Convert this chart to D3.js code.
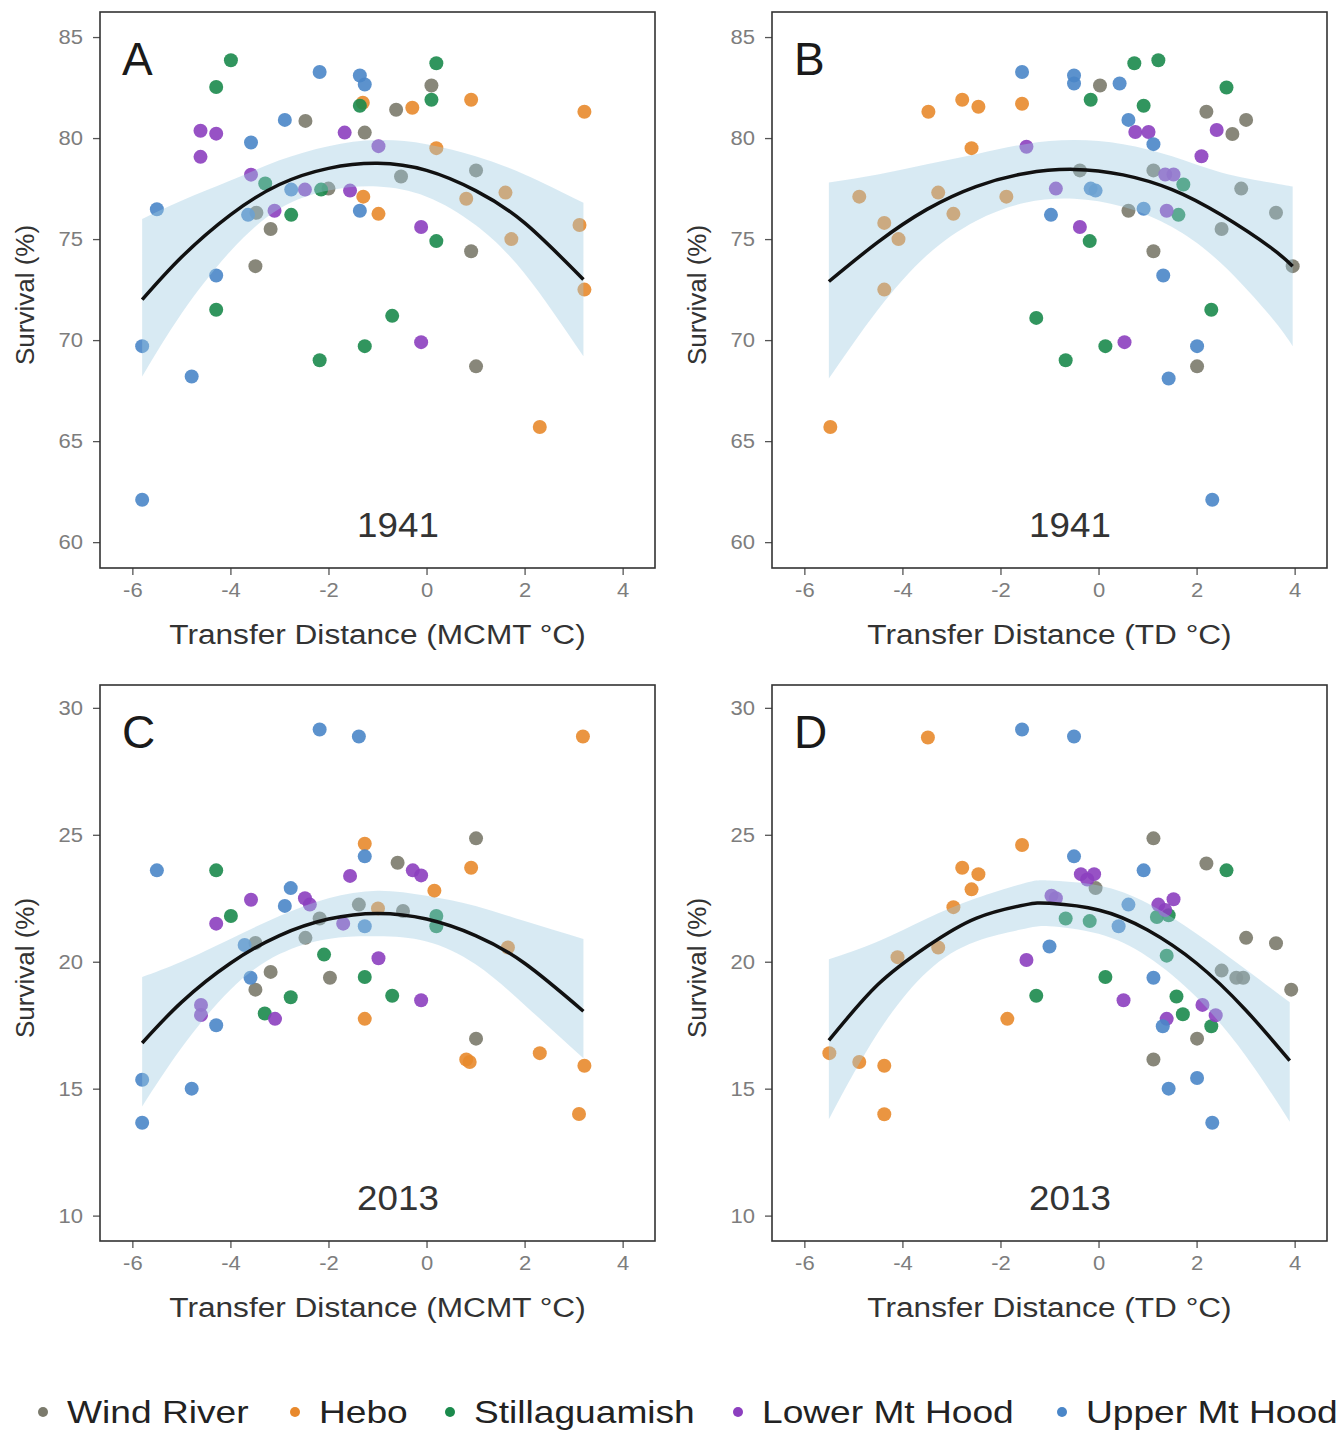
<!DOCTYPE html>
<html>
<head>
<meta charset="utf-8">
<script src="https://cdn.jsdelivr.net/npm/d3@7"></script>
<style>
  body { margin: 0; background: #fff; }
  svg { font-family: "Liberation Sans", Arial, sans-serif; }
</style>
</head>
<body>
<div id="chart"></div>
<script>
// sites and colours
const SITES = ["Wind River", "Hebo", "Stillaguamish", "Lower Mt Hood", "Upper Mt Hood"]
const COLORS = ["#7b7a6c", "#e8892c", "#1b8a4c", "#8c3fbf", "#4a86c8"]

const X_TICKS = [-6, -4, -2, 0, 2, 4]
const Y_TICKS_1941 = [60, 65, 70, 75, 80, 85]
const Y_TICKS_2013 = [10, 15, 20, 25, 30]

// [transfer distance, survival, site index]
const pointsA = [
  [-2.47,80.85,0],[-1.26,80.27,0],[-0.62,81.4,0],[0.1,82.6,0],[-0.52,78.1,0],[1.01,78.4,0],
  [-3.47,76.3,0],[-3.18,75.5,0],[-3.49,73.66,0],[0.91,74.4,0],[1.01,68.7,0],[-2.0,77.5,0],
  [-1.29,77.1,1],[-0.98,76.25,1],[-0.29,81.5,1],[0.91,81.9,1],[3.22,81.3,1],[0.2,79.5,1],
  [1.61,77.3,1],[0.81,77.0,1],[3.12,75.7,1],[1.73,75.0,1],[3.22,72.5,1],[2.31,65.7,1],[-1.3,81.75,1],
  [-3.99,83.85,2],[-4.29,82.53,2],[-1.36,81.6,2],[0.2,83.7,2],[0.1,81.9,2],[-3.29,77.75,2],
  [-2.15,77.45,2],[-2.76,76.2,2],[-4.29,71.5,2],[-2.18,69.0,2],[-1.26,69.7,2],[0.2,74.9,2],[-0.7,71.2,2],
  [-4.61,80.36,3],[-4.29,80.22,3],[-1.67,80.27,3],[-0.98,79.6,3],[-4.61,79.07,3],[-3.58,78.19,3],
  [-2.48,77.45,3],[-1.56,77.4,3],[-3.1,76.4,3],[-0.11,75.6,3],[-0.11,69.9,3],
  [-2.18,83.27,4],[-1.36,83.1,4],[-1.26,82.65,4],[-2.89,80.9,4],[-3.58,79.78,4],[-2.76,77.45,4],
  [-3.64,76.2,4],[-1.36,76.4,4],[-5.5,76.48,4],[-4.29,73.2,4],[-5.8,69.7,4],[-4.79,68.2,4],[-5.8,62.1,4]
]

const pointsB = [
  [0.03,82.6,0],[2.2,81.3,0],[3.01,80.9,0],[2.73,80.2,0],[1.12,78.4,0],[-0.38,78.4,0],[2.91,77.5,0],
  [0.61,76.4,0],[3.62,76.3,0],[2.51,75.5,0],[1.12,74.4,0],[3.96,73.66,0],[2.01,68.7,0],
  [-3.47,81.3,1],[-2.78,81.9,1],[-2.45,81.55,1],[-1.56,81.7,1],[-2.59,79.5,1],[-4.88,77.1,1],
  [-3.27,77.3,1],[-1.88,77.1,1],[-2.96,76.25,1],[-4.37,75.8,1],[-4.08,75.0,1],[-4.37,72.5,1],[-5.47,65.7,1],
  [-1.27,71.1,2],[-0.16,81.9,2],[0.73,83.7,2],[1.22,83.85,2],[0.92,81.6,2],[2.61,82.5,2],
  [1.73,77.7,2],[1.63,76.2,2],[-0.18,74.9,2],[2.3,71.5,2],[0.14,69.7,2],[-0.67,69.0,2],
  [-1.47,79.57,3],[-0.87,77.5,3],[2.41,80.4,3],[2.1,79.1,3],[0.75,80.3,3],[1.02,80.3,3],
  [1.36,78.2,3],[1.53,78.2,3],[1.39,76.4,3],[-0.38,75.6,3],[0.53,69.9,3],
  [-1.56,83.27,4],[-0.5,83.1,4],[-0.5,82.7,4],[0.43,82.7,4],[0.61,80.9,4],[1.12,79.7,4],[-0.16,77.5,4],
  [-0.06,77.4,4],[-0.97,76.2,4],[0.92,76.5,4],[1.32,73.2,4],[2.01,69.7,4],[1.43,68.1,4],[2.32,62.1,4]
]

const pointsC = [
  [-2.18,21.7,0],[-1.38,22.25,0],[-3.49,20.74,0],[-2.47,20.94,0],[-3.18,19.6,0],[-1.97,19.37,0],
  [-3.49,18.9,0],[1.01,24.86,0],[-0.59,23.9,0],[-0.48,22.0,0],[1.01,16.97,0],
  [-1.26,24.65,1],[-1.26,17.75,1],[3.19,28.87,1],[0.91,23.7,1],[0.16,22.8,1],[-0.99,22.1,1],
  [1.66,20.56,1],[0.81,16.15,1],[0.88,16.05,1],[2.31,16.4,1],[3.22,15.9,1],[3.11,14.0,1],
  [-4.29,23.6,2],[-3.99,21.8,2],[-2.09,20.28,2],[-1.26,19.4,2],[-2.77,18.6,2],[-3.3,17.96,2],
  [0.2,21.8,2],[0.2,21.4,2],[-0.7,18.66,2],
  [-1.56,23.38,3],[-3.58,22.44,3],[-2.48,22.5,3],[-2.38,22.25,3],[-4.29,21.5,3],[-1.7,21.5,3],
  [-0.98,20.14,3],[-4.6,18.3,3],[-4.6,17.9,3],[-3.09,17.75,3],[-0.28,23.6,3],[-0.11,23.4,3],[-0.11,18.48,3],
  [-2.18,29.15,4],[-1.38,28.87,4],[-1.26,24.15,4],[-5.5,23.6,4],[-2.77,22.9,4],[-2.89,22.2,4],
  [-1.26,21.4,4],[-3.71,20.66,4],[-3.59,19.37,4],[-4.29,17.5,4],[-5.8,15.35,4],[-4.79,15.0,4],[-5.8,13.66,4]
]

const pointsD = [
  [1.12,24.86,0],[2.2,23.87,0],[-0.06,22.9,0],[3.01,20.94,0],[3.62,20.73,0],[2.51,19.65,0],
  [2.81,19.37,0],[2.95,19.37,0],[3.93,18.9,0],[2.01,16.97,0],[1.12,16.15,0],
  [-3.48,28.83,1],[-1.56,24.6,1],[-2.78,23.7,1],[-2.45,23.45,1],[-2.59,22.85,1],[-2.96,22.15,1],
  [-4.1,20.18,1],[-3.27,20.56,1],[-1.86,17.75,1],[-5.49,16.4,1],[-4.88,16.05,1],[-4.37,15.9,1],[-4.37,13.99,1],
  [-1.27,18.66,2],[2.61,23.6,2],[-0.67,21.7,2],[-0.18,21.6,2],[1.19,21.76,2],[1.43,21.83,2],
  [1.39,20.24,2],[0.14,19.4,2],[1.59,18.63,2],[1.72,17.93,2],[2.3,17.46,2],
  [-1.47,20.07,3],[-0.96,22.6,3],[-0.36,23.45,3],[-0.09,23.45,3],[-0.23,23.24,3],[-0.87,22.5,3],
  [1.22,22.25,3],[1.53,22.46,3],[1.36,22.04,3],[0.51,18.48,3],[2.12,18.3,3],[1.39,17.75,3],[2.39,17.89,3],
  [-1.56,29.15,4],[-0.5,28.87,4],[-0.5,24.15,4],[0.92,23.6,4],[0.61,22.25,4],[0.41,21.4,4],
  [-1.0,20.6,4],[1.12,19.37,4],[1.31,17.46,4],[2.01,15.42,4],[1.43,15.0,4],[2.32,13.66,4]
]

// fitted curve and confidence band: [x, fit, low, high]
const fitA = [
  [-5.8,72.0,68.2,76.0],[-5,74.1,71.3,76.9],[-4,76.2,74.4,77.9],[-3,77.7,76.5,78.9],[-2,78.5,77.4,79.6],
  [-1,78.75,77.6,79.9],[0,78.4,77.1,79.7],[1,77.4,75.7,79.1],[2,75.8,73.3,78.2],[3.2,73.0,69.2,76.8]
]
const fitB = [
  [-5.5,72.9,68.1,77.8],[-4.5,74.85,71.5,78.2],[-3.5,76.47,74.2,78.7],[-2.5,77.6,75.9,79.2],[-1.5,78.25,76.8,79.7],
  [-0.5,78.45,77.0,79.9],[0.5,78.18,76.6,79.7],[1.5,77.45,75.6,79.1],[2.5,76.2,73.8,78.3],[3.5,74.6,71.2,77.8],[3.96,73.66,69.7,77.6]
]
const fitC = [
  [-5.8,16.8,14.3,19.4],[-5,18.4,16.6,20.0],[-4,19.94,18.9,20.9],[-3,21.03,20.3,21.8],[-2,21.68,20.9,22.5],
  [-1,21.9,21.0,22.8],[0,21.68,20.8,22.6],[1,21.03,19.9,22.2],[2,19.94,18.3,21.6],[3.2,18.05,16.2,20.9]
]
const fitD = [
  [-5.5,16.9,13.8,20.1],[-4.5,19.1,17.2,20.8],[-3.5,20.6,19.6,21.7],[-2.5,21.71,20.8,22.5],[-1.5,22.24,21.3,23.1],
  [-1,22.3,21.4,23.2],[0,22.04,21.1,23.0],[1,21.25,20.2,22.3],[2,19.94,18.6,21.1],[3,18.1,16.3,19.7],[3.9,16.1,13.7,18.4]
]

const WIDTH = 1338
const HEIGHT = 1433
const PW = 555
const PH = 556
const STRETCH = 1.16   // the original's lettering is a bit wider than Liberation Sans

// widen a text node horizontally around its anchor
function widen(sel, k) {
  sel.each(function () {
    const w = this.getComputedTextLength()
    d3.select(this).attr("textLength", w * k).attr("lengthAdjust", "spacingAndGlyphs")
  })
}

const svg = d3.select("#chart").append("svg")
  .attr("width", WIDTH)
  .attr("height", HEIGHT)

const panels = [
  { letter: "A", year: "1941", left: 100, top: 12, pts: pointsA, fit: fitA, yDom: [58.72, 86.24], yTicks: Y_TICKS_1941, xTitle: "Transfer Distance (MCMT °C)" },
  { letter: "B", year: "1941", left: 772, top: 12, pts: pointsB, fit: fitB, yDom: [58.72, 86.24], yTicks: Y_TICKS_1941, xTitle: "Transfer Distance (TD °C)" },
  { letter: "C", year: "2013", left: 100, top: 685, pts: pointsC, fit: fitC, yDom: [9.0, 30.9], yTicks: Y_TICKS_2013, xTitle: "Transfer Distance (MCMT °C)" },
  { letter: "D", year: "2013", left: 772, top: 685, pts: pointsD, fit: fitD, yDom: [9.0, 30.9], yTicks: Y_TICKS_2013, xTitle: "Transfer Distance (TD °C)" }
]

panels.forEach((p, i) => {
  const x = d3.scaleLinear().domain([-6.66, 4.66]).range([0, PW])
  const y = d3.scaleLinear().domain(p.yDom).range([PH, 0])

  const g = svg.append("g").attr("transform", `translate(${p.left},${p.top})`)

  g.append("clipPath").attr("id", "clip" + i)
    .append("rect").attr("width", PW).attr("height", PH)

  const inner = g.append("g").attr("clip-path", `url(#clip${i})`)

  // points first, band drawn over them like ggplot does
  inner.selectAll("circle")
    .data(p.pts)
    .join("circle")
      .attr("cx", d => x(d[0]))
      .attr("cy", d => y(d[1]))
      .attr("r", 7)
      .attr("fill", d => COLORS[d[2]])
      .attr("opacity", 0.9)

  inner.append("path")
    .datum(p.fit)
    .attr("d", d3.area()
      .x(d => x(d[0]))
      .y0(d => y(d[2]))
      .y1(d => y(d[3]))
      .curve(d3.curveNatural))
    .attr("fill", "#9ecae1")
    .attr("opacity", 0.4)

  inner.append("path")
    .datum(p.fit)
    .attr("d", d3.line()
      .x(d => x(d[0]))
      .y(d => y(d[1]))
      .curve(d3.curveNatural))
    .attr("fill", "none")
    .attr("stroke", "#111")
    .attr("stroke-width", 3.5)

  // axes
  const ax = g.append("g")
    .attr("transform", `translate(0,${PH})`)
    .call(d3.axisBottom(x).tickValues(X_TICKS).tickSize(7).tickPadding(8).tickFormat(d => String(d)))
  const ay = g.append("g")
    .call(d3.axisLeft(y).tickValues(p.yTicks).tickSize(7).tickPadding(10))

  ;[ax, ay].forEach(a => {
    a.select(".domain").remove()
    a.selectAll("line").attr("stroke", "#555").attr("stroke-width", 1.3)
    a.selectAll("text").attr("fill", "#7d7d7d").attr("font-size", 20).attr("font-family", "Liberation Sans, Arial, sans-serif")
  })
  widen(ax.selectAll("text"), 1.1)
  widen(ay.selectAll("text"), 1.1)

  g.append("rect")
    .attr("width", PW).attr("height", PH)
    .attr("fill", "none")
    .attr("stroke", "#333")
    .attr("stroke-width", 1.6)

  g.append("text")
    .attr("x", 22).attr("y", 63)
    .attr("font-size", 46)
    .attr("fill", "#1a1a1a")
    .text(p.letter)

  g.append("text")
    .attr("x", 298).attr("y", 525)
    .attr("text-anchor", "middle")
    .attr("font-size", 35)
    .attr("fill", "#333")
    .text(p.year)
    .call(widen, 1.05)

  g.append("text")
    .attr("x", PW / 2).attr("y", PH + 76)
    .attr("text-anchor", "middle")
    .attr("font-size", 27)
    .attr("fill", "#333")
    .text(p.xTitle)
    .call(widen, 1.17)

  g.append("text")
    .attr("transform", `translate(-66,${PH / 2 + 5}) rotate(-90)`)
    .attr("text-anchor", "middle")
    .attr("font-size", 26)
    .attr("fill", "#333")
    .text("Survival (%)")
})

// legend
const legendX = [43, 295, 450, 738, 1062]
const legend = svg.append("g").attr("transform", "translate(0,1412)")
const items = legend.selectAll("g")
  .data(SITES)
  .join("g")
    .attr("transform", (d, i) => `translate(${legendX[i]},0)`)
items.append("circle")
  .attr("r", 5)
  .attr("fill", (d, i) => COLORS[i])
items.append("text")
  .attr("x", 24).attr("y", 11)
  .attr("font-size", 32)
  .attr("fill", "#222")
  .text(d => d)
  .call(widen, STRETCH)
</script>
</body>
</html>
